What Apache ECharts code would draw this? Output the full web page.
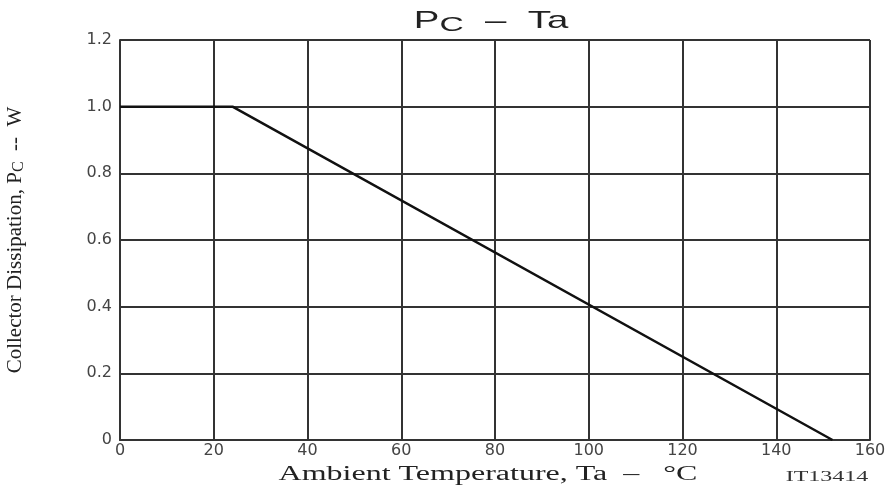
<!DOCTYPE html>
<html><head><meta charset="utf-8">
<script src="https://cdn.jsdelivr.net/npm/echarts@6/dist/echarts.min.js"></script>
<style>html,body{margin:0;padding:0;background:#fff}#c{width:888px;height:494px}</style>
</head><body><div id="c"></div>
<script>
const tempC = [0, 24, 152];
const powerW = [1.0, 1.0, 0];
const xTicks = [0, 20, 40, 60, 80, 100, 120, 140, 160];
const yTicks = [0, 0.2, 0.4, 0.6, 0.8, 1.0, 1.2];

const chart = echarts.init(document.getElementById('c'));
chart.setOption({
  animation: false,
  backgroundColor: '#fff',
  grid: { left: 120, top: 40, width: 750, height: 400, containLabel: false, outerBoundsMode: 'none' },
  xAxis: {
    type: 'value', min: 0, max: 160, interval: 20,
    axisLine: { show: true, lineStyle: { color: '#333', width: 2 } },
    axisTick: { show: false },
    splitLine: { show: true, lineStyle: { color: '#333', width: 2 } },
    axisLabel: { color: '#444', fontFamily: 'DejaVu Sans', fontSize: 16, margin: 3,
      formatter: v => xTicks.includes(v) ? String(v) : '' }
  },
  yAxis: {
    type: 'value', min: 0, max: 1.2, interval: 0.2,
    axisLine: { show: true, lineStyle: { color: '#333', width: 2 } },
    axisTick: { show: false },
    splitLine: { show: true, lineStyle: { color: '#333', width: 2 } },
    axisLabel: { color: '#444', fontFamily: 'DejaVu Sans', fontSize: 16, margin: 8,
      formatter: v => { const t = yTicks.find(y => Math.abs(y - v) < 1e-6); return t === undefined ? '' : (t === 0 ? '0' : t.toFixed(1)); } },
    name: 'Collector Dissipation, P{s|C}  --  W',
    nameLocation: 'middle', nameGap: 93, nameRotate: 90,
    nameTextStyle: { fontFamily: 'Liberation Serif', fontSize: 21, color: '#222',
      rich: { s: { fontFamily: 'Liberation Serif', fontSize: 16, color: '#222', padding: [8, 0, 0, 0] } } }
  },
  graphic: [
    {
      type: 'text', x: 491, y: 21, scaleX: 1.6,
      style: {
        text: 'P{s|C}  –  Ta', align: 'center', verticalAlign: 'middle',
        fontFamily: 'Liberation Sans', fontSize: 24, fill: '#222',
        rich: { s: { fontFamily: 'Liberation Sans', fontSize: 21, fill: '#222', padding: [9, 0, 0, 0] } }
      }
    },
    {
      type: 'text', x: 488, y: 475, scaleX: 1.6,
      style: { text: 'Ambient Temperature, Ta  –   °C', align: 'center', verticalAlign: 'middle',
        fontFamily: 'Liberation Serif', fontSize: 20, fill: '#222' }
    },
    {
      type: 'text', x: 827, y: 477, scaleX: 1.6,
      style: { text: 'IT13414', align: 'center', verticalAlign: 'middle',
        fontFamily: 'Liberation Serif', fontSize: 15, fill: '#333' }
    }
  ],
  series: [{
    type: 'line',
    data: tempC.map((t, i) => [t, powerW[i]]),
    symbol: 'none',
    lineStyle: { color: '#111', width: 2.5 }
  }]
});
</script></body></html>
